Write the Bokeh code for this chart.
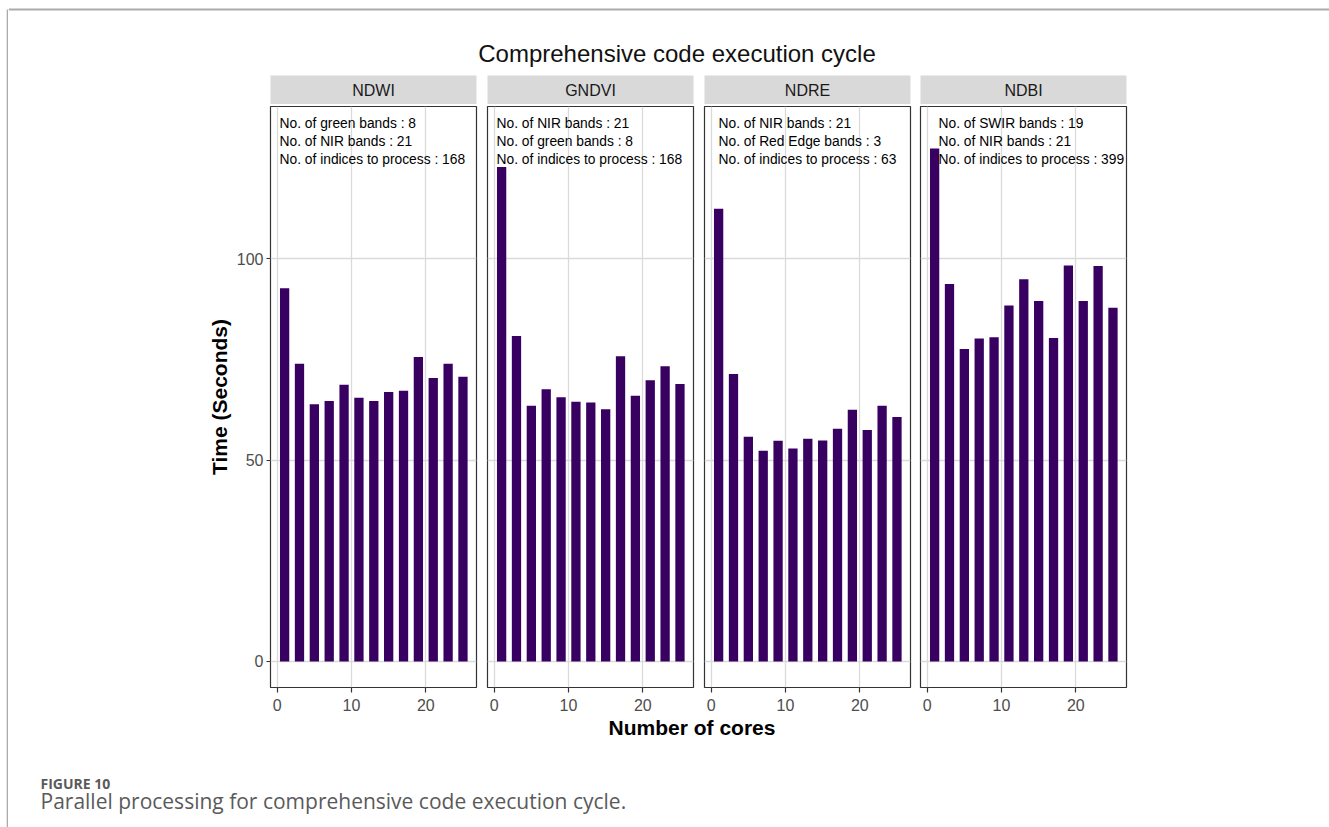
from bokeh.plotting import figure
from bokeh.layouts import row, column
from bokeh.models import Range1d
from bokeh.core.properties import value
from bokeh.embed import file_html
from bokeh.resources import INLINE

# ---- data -------------------------------------------------------------
cores = [1, 3, 5, 7, 9, 11, 13, 15, 17, 19, 21, 23, 25]

ndwi_time = [92.7, 73.9, 63.9, 64.7, 68.7, 65.5, 64.7, 66.9, 67.2, 75.6, 70.4, 73.9, 70.7]
gndvi_time = [122.8, 80.8, 63.5, 67.6, 65.6, 64.5, 64.3, 62.6, 75.8, 66.0, 69.8, 73.3, 68.9]
ndre_time = [112.4, 71.4, 55.8, 52.3, 54.8, 52.9, 55.3, 54.9, 57.8, 62.5, 57.5, 63.5, 60.7]
ndbi_time = [127.4, 93.7, 77.6, 80.2, 80.5, 88.4, 94.9, 89.5, 80.3, 98.3, 89.5, 98.2, 87.8]

panel_names = ["NDWI", "GNDVI", "NDRE", "NDBI"]
panel_times = [ndwi_time, gndvi_time, ndre_time, ndbi_time]
panel_notes = [
    ["No. of green bands : 8", "No. of NIR bands : 21", "No. of indices to process : 168"],
    ["No. of NIR bands : 21", "No. of green bands : 8", "No. of indices to process : 168"],
    ["No. of NIR bands : 21", "No. of Red Edge bands : 3", "No. of indices to process : 63"],
    ["No. of SWIR bands : 19", "No. of NIR bands : 21", "No. of indices to process : 399"],
]

x_ticks = [0, 10, 20]
y_ticks = [0, 50, 100]

title_text = "Comprehensive code execution cycle"
x_label = "Number of cores"
y_label = "Time (Seconds)"
fig_label = "FIGURE 10"
caption_text = "Parallel processing for comprehensive code execution cycle."

# ---- styling / geometry ---------------------------------------------------
FONT = "Liberation Sans"
CAP_FONT = "Open Sans"
BAR = "#370061"
GRID = "#DADADA"
BORDER = "#333333"
STRIP = "#D9D9D9"
PAGE_LINE = "#ABABAB"

FRAME_W = 206
LEFT_B = [262, 2, 2, 2]
RIGHT_B = [9, 9, 8, 203]
NOTE_DX = [9, 9, 14, 18]
NOTE_DY = [17, 35, 53]
ROW_W = sum(LEFT_B) + sum(RIGHT_B) + 4 * FRAME_W  # 1321

X_RANGE = (-0.9, 26.82)
Y_RANGE = (-6.46, 137.8)


def blank(width, height, xr, yr, **kw):
    p = figure(width=width, height=height, x_range=Range1d(*xr), y_range=Range1d(*yr),
               output_backend="svg", toolbar_location=None,
               x_axis_location=None, y_axis_location=None, **kw)
    p.grid.visible = False
    p.outline_line_color = None
    return p


# left page rule
edge = blank(8, 827, (0, 8), (827, 0), min_border=0)
edge.segment(x0=[7], y0=[9], x1=[7], y1=[827], line_color=PAGE_LINE, line_width=1.6)

# header with top rule and title
header = blank(ROW_W, 75, (0, ROW_W), (75, 0), min_border=0)
header.segment(x0=[0], y0=[9], x1=[ROW_W], y1=[9], line_color=PAGE_LINE, line_width=2)
header.text(x=[668.5], y=[53], text=[title_text], text_font=value(FONT),
            text_font_size="24px", text_color="#111111",
            text_align="center", text_baseline="alphabetic")

strips = []
panels = []
for i, name in enumerate(panel_names):
    w = LEFT_B[i] + FRAME_W + RIGHT_B[i]

    # facet strip
    s = blank(w, 29, (0, 1), (0, 1), min_border=0,
              min_border_left=LEFT_B[i], min_border_right=RIGHT_B[i])
    s.background_fill_color = STRIP
    s.text(x=[0.5], y=[0.5], text=[name], text_font=value(FONT), text_font_size="16px",
           text_color="#1A1A1A", text_align="center", text_baseline="middle")
    strips.append(s)

    # panel
    p = figure(width=w, height=613, x_range=Range1d(*X_RANGE), y_range=Range1d(*Y_RANGE),
               output_backend="svg", toolbar_location=None,
               y_axis_location="left" if i == 0 else None,
               min_border=0, min_border_left=LEFT_B[i], min_border_right=RIGHT_B[i],
               min_border_top=2, min_border_bottom=30)
    p.outline_line_color = BORDER
    p.outline_line_width = 1.2
    p.background_fill_color = "white"

    p.xgrid.ticker = x_ticks
    p.ygrid.ticker = y_ticks
    p.grid.grid_line_color = GRID
    p.grid.grid_line_width = 1.3
    p.grid.minor_grid_line_color = None

    p.xaxis.ticker = x_ticks
    axes = list(p.xaxis) + (list(p.yaxis) if i == 0 else [])
    for ax in axes:
        ax.axis_line_color = None
        ax.major_tick_line_color = BORDER
        ax.major_tick_line_width = 1.2
        ax.major_tick_in = 0
        ax.minor_tick_line_color = None
        ax.major_label_text_font = FONT
        ax.major_label_text_font_size = "16px"
        ax.major_label_text_color = "#4D4D4D"
    p.xaxis.major_tick_out = 5
    p.xaxis.major_label_standoff = 6
    if i == 0:
        p.yaxis.ticker = y_ticks
        p.yaxis.major_tick_out = 4
        p.yaxis.major_label_standoff = 3
        p.yaxis.axis_label = y_label
        p.yaxis.axis_label_text_font = FONT
        p.yaxis.axis_label_text_font_size = "21px"
        p.yaxis.axis_label_text_font_style = "bold"
        p.yaxis.axis_label_text_color = "black"
        p.yaxis.axis_label_standoff = 3

    p.vbar(x=cores, top=panel_times[i], width=1.25, bottom=0,
           fill_color=BAR, line_color=None)

    notes = panel_notes[i]
    p.text(x=[X_RANGE[0]] * len(notes), y=[Y_RANGE[1]] * len(notes), text=notes,
           x_offset=NOTE_DX[i], y_offset=NOTE_DY,
           text_font=value(FONT), text_font_size="13.8px", text_color="black",
           text_align="left", text_baseline="alphabetic")
    panels.append(p)

# footer: shared x label and figure caption
footer = blank(ROW_W, 110, (0, ROW_W), (110, 0), min_border=0)
footer.text(x=[683.5], y=[10], text=[x_label], text_font=value(FONT),
            text_font_size="21px", text_font_style="bold", text_color="black",
            text_align="center", text_baseline="middle")
footer.text(x=[32], y=[66], text=[fig_label], text_font=value(CAP_FONT),
            text_font_size="14px", text_font_style="bold", text_color="#5A5A5A",
            text_align="left", text_baseline="alphabetic")
footer.text(x=[32], y=[83], text=[caption_text], text_font=value(CAP_FONT),
            text_font_size="21px", text_color="#5A5A5A",
            text_align="left", text_baseline="alphabetic")

layout = row(edge, column(header, row(*strips), row(*panels), footer))

open("out.html", "w").write(file_html(layout, INLINE))
